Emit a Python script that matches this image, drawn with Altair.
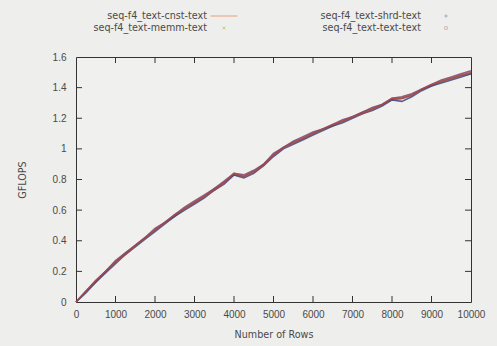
import altair as alt
import pandas as pd

rows = [0, 250, 500, 750, 1000, 1250, 1500, 1750, 2000, 2250, 2500, 2750, 3000,
        3250, 3500, 3750, 4000, 4250, 4500, 4750, 5000, 5250, 5500, 5750, 6000,
        6250, 6500, 6750, 7000, 7250, 7500, 7750, 8000, 8250, 8500, 8750, 9000,
        9250, 9500, 9750, 10000]

cnst = [0.00, 0.07, 0.14, 0.20, 0.26, 0.31, 0.37, 0.42, 0.47, 0.52, 0.57, 0.61, 0.65,
        0.69, 0.73, 0.78, 0.84, 0.82, 0.85, 0.89, 0.96, 1.01, 1.04, 1.07, 1.10,
        1.13, 1.16, 1.18, 1.21, 1.23, 1.26, 1.29, 1.33, 1.33, 1.35, 1.39, 1.42,
        1.44, 1.46, 1.48, 1.50]
memm = [0.00, 0.07, 0.13, 0.20, 0.26, 0.32, 0.37, 0.42, 0.47, 0.52, 0.56, 0.61, 0.65,
        0.69, 0.74, 0.78, 0.83, 0.82, 0.85, 0.90, 0.96, 1.01, 1.04, 1.07, 1.10,
        1.13, 1.15, 1.18, 1.21, 1.24, 1.26, 1.29, 1.32, 1.33, 1.35, 1.39, 1.41,
        1.44, 1.46, 1.48, 1.49]
shrd = [0.00, 0.06, 0.13, 0.19, 0.25, 0.31, 0.36, 0.41, 0.46, 0.51, 0.56, 0.60, 0.64,
        0.68, 0.73, 0.77, 0.83, 0.81, 0.84, 0.89, 0.95, 1.00, 1.03, 1.06, 1.09,
        1.12, 1.15, 1.17, 1.20, 1.23, 1.25, 1.28, 1.32, 1.31, 1.34, 1.38, 1.41,
        1.43, 1.45, 1.47, 1.49]
text = [0.00, 0.07, 0.14, 0.20, 0.27, 0.32, 0.37, 0.42, 0.48, 0.52, 0.57, 0.62, 0.66,
        0.70, 0.74, 0.79, 0.84, 0.83, 0.86, 0.90, 0.97, 1.01, 1.05, 1.08, 1.11,
        1.13, 1.16, 1.19, 1.21, 1.24, 1.27, 1.29, 1.33, 1.34, 1.36, 1.39, 1.42,
        1.45, 1.47, 1.49, 1.51]

series_names = ["seq-f4_text-cnst-text", "seq-f4_text-memm-text",
                "seq-f4_text-shrd-text", "seq-f4_text-text-text"]
line_colors = ["#a84848", "#707848", "#44447a", "#804468"]
legend_colors = ["#e0804a", "#b8c050", "#8090a8", "#d0a0a8"]

x_ticks = [0, 1000, 2000, 3000, 4000, 5000, 6000, 7000, 8000, 9000, 10000]
y_ticks = [0, 0.2, 0.4, 0.6, 0.8, 1.0, 1.2, 1.4, 1.6]

legend_col = [0, 0, 1, 1]
legend_row = [0, 1, 0, 1]

W, H = 395, 245
FONT = "Liberation Sans"
FONT2 = "DejaVu Sans"
TXT = "#4a4a4a"

# draw order: green, magenta, blue, red on top
draw_order = [1, 3, 2, 0]
all_vals = [cnst, memm, shrd, text]
recs = []
for k, idx in enumerate(draw_order):
    for r, v in zip(rows, all_vals[idx]):
        recs.append({"rows": r, "gflops": v, "series": series_names[idx], "ord": k})
df = pd.DataFrame(recs)

xs = alt.Scale(domain=[0, 10000], nice=False)
ys = alt.Scale(domain=[0, 1.6], nice=False)
ax_x = alt.Axis(values=x_ticks, format="d", title="Number of Rows",
                ticks=False, domain=False, grid=False, labelPadding=7, labelFlush=False,
                titleX=W / 2, titleY=32, titleBaseline="middle")
ax_y = alt.Axis(values=y_ticks, format="~g", title="GFLOPS",
                ticks=False, domain=False, grid=False, labelPadding=10, labelFlush=False,
                titleX=-54, titleY=H / 2, titleBaseline="middle")

lines = alt.Chart(df).mark_line(strokeWidth=1.6, opacity=0.85).encode(
    x=alt.X("rows:Q", scale=xs, axis=ax_x),
    y=alt.Y("gflops:Q", scale=ys, axis=ax_y),
    color=alt.Color("series:N", scale=alt.Scale(domain=series_names, range=line_colors),
                    legend=None),
    detail="ord:N",
)

xt = pd.DataFrame({"v": x_ticks[1:-1]})
yt = pd.DataFrame({"v": y_ticks[1:-1]})
tick_color = "#333333"
bottom_t = alt.Chart(xt).mark_rule(color=tick_color).encode(
    x=alt.X("v:Q", scale=xs, axis=ax_x), y=alt.value(H), y2=alt.value(H - 6))
top_t = alt.Chart(xt).mark_rule(color=tick_color).encode(
    x=alt.X("v:Q", scale=xs, axis=ax_x), y=alt.value(0), y2=alt.value(6))
left_t = alt.Chart(yt).mark_rule(color=tick_color).encode(
    y=alt.Y("v:Q", scale=ys, axis=ax_y), x=alt.value(0), x2=alt.value(6))
right_t = alt.Chart(yt).mark_rule(color=tick_color).encode(
    y=alt.Y("v:Q", scale=ys, axis=ax_y), x=alt.value(W), x2=alt.value(W - 6))

main = alt.layer(lines, bottom_t, top_t, left_t, right_t)

leg = pd.DataFrame({"label": series_names, "col": legend_col, "row": legend_row})
ly = alt.Scale(domain=[0, 1], range=[-41, -29])
leg_text = alt.Chart(leg).mark_text(align="right", baseline="middle", fontSize=9.6,
                                    color=TXT, font=FONT2).encode(
    x=alt.X("col:Q", scale=alt.Scale(domain=[0, 1], range=[131, 345]), axis=None),
    y=alt.Y("row:Q", scale=ly, axis=None),
    text="label:N",
)
path_x = "M-0.1,-0.1L0.1,0.1M0.1,-0.1L-0.1,0.1"
path_plus = "M-0.12,0L0.12,0M0,-0.12L0,0.12"
path_sq = "M-0.1,-0.1H0.1V0.1H-0.1Z"
leg_sym = alt.Chart(leg).mark_point(filled=False, size=729, strokeWidth=1).encode(
    x=alt.X("col:Q", scale=alt.Scale(domain=[0, 1], range=[148, 370]), axis=None),
    y=alt.Y("row:Q", scale=ly, axis=None),
    shape=alt.Shape("label:N", scale=alt.Scale(domain=series_names,
                                               range=["stroke", path_x, path_plus, path_sq]),
                    legend=None),
    color=alt.Color("label:N", scale=alt.Scale(domain=series_names, range=legend_colors),
                    legend=None),
)
legend = alt.layer(leg_text, leg_sym).resolve_scale(x="independent")

chart = alt.layer(main, legend).resolve_scale(
    x="independent", y="independent", color="independent", shape="independent"
).properties(
    width=W, height=H,
    autosize=alt.AutoSizeParams(type="none"),
    padding={"left": 76, "top": 57, "right": 26, "bottom": 44},
    background="#eeeeec",
).configure_view(
    stroke="#333333", strokeWidth=1, fill="#f0f0ee"
).configure_axis(
    labelFont=FONT, titleFont=FONT2, labelFontSize=10, titleFontSize=9.6,
    labelColor=TXT, titleColor=TXT, titleFontWeight="normal",
)

chart.save("out.html", embed_options={"renderer": "svg", "actions": False})
